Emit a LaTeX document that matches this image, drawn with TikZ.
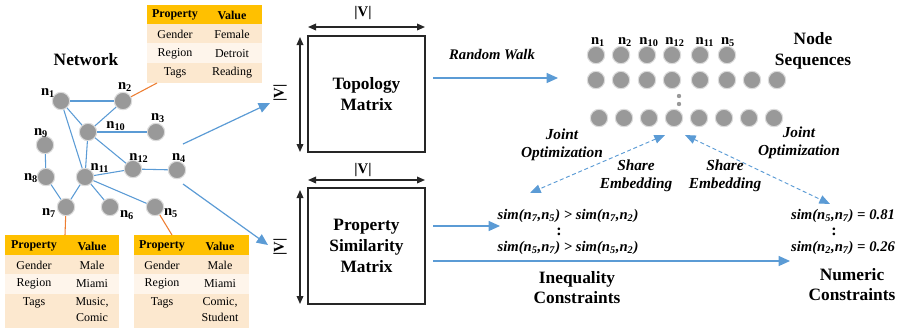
\documentclass[tikz,border=0pt]{standalone}
\usepackage{fontspec}
\setmainfont{Liberation Serif}
\usetikzlibrary{arrows.meta}
\definecolor{ublue}{HTML}{5B9BD5}
\definecolor{uorange}{HTML}{ED7D31}
\definecolor{hdr}{HTML}{FFC000}
\definecolor{rowa}{HTML}{FCE8CF}
\definecolor{rowb}{HTML}{FEF5EB}
\definecolor{ndgray}{HTML}{999999}
\definecolor{dk}{HTML}{262626}
\begin{document}
\begin{tikzpicture}[x=0.75pt,y=-0.75pt,
  nd/.style={circle, fill=ndgray, draw=ndgray!35!white, line width=0.8pt, minimum size=13pt, inner sep=0pt},
  lbl/.style={font=\fontsize{11}{11}\selectfont\bfseries, inner sep=0pt},
  netedge/.style={draw=ublue, line width=0.8pt},
  link/.style={draw=uorange, line width=0.8pt},
  flow/.style={draw=ublue, line width=0.9pt, -{Triangle[length=8.5pt,width=7.5pt]}},
  dflow/.style={draw=ublue, line width=0.7pt, dash pattern=on 3pt off 2pt, {Triangle[length=8pt,width=6.5pt]}-{Triangle[length=8pt,width=6.5pt]}},
  dimarrow/.style={draw=dk, line width=1pt, {Triangle[length=6pt,width=5pt]}-{Triangle[length=6pt,width=5pt]}},
  mat/.style={draw=dk, line width=1pt, minimum width=87.75pt, minimum height=87pt, align=center, font=\fontsize{13}{16}\selectfont\bfseries},
  ttl/.style={font=\fontsize{13}{16}\selectfont\bfseries, align=center, inner sep=0pt},
  ttlb/.style={font=\fontsize{13}{15}\selectfont\bfseries, align=center, inner sep=0pt},
  ital/.style={font=\fontsize{11.5}{13.5}\selectfont\bfseries\itshape, align=center, inner sep=0pt},
  cons/.style={font=\fontsize{11}{13}\selectfont\bfseries\itshape, inner sep=0pt},
  cell/.style={font=\fontsize{9}{12}\selectfont, inner sep=0pt, align=center},
  hcell/.style={font=\fontsize{9}{12}\selectfont\bfseries, inner sep=0pt},
  vlab/.style={font=\fontsize{11}{11}\selectfont\bfseries, inner sep=0pt}
]
\useasboundingbox (0,0) rectangle (904,330);

% ---------- tables ----------
\fill[hdr] (147,5) rectangle (262,24);
\fill[rowa] (147,24) rectangle (262,43);
\fill[rowb] (147,43) rectangle (262,63);
\fill[rowa] (147,63) rectangle (262,83);
\node[hcell] (ta1) at (175,15) {Property};
\node[hcell] (ta2) at (232,15) {Value};
\node[cell] (ta3) at (175,34) {Gender};
\node[cell] (ta4) at (232,34) {Female};
\node[cell] (ta5) at (175,54) {Region};
\node[cell] (ta6) at (232,54) {Detroit};
\node[cell] (ta7) at (175,73) {Tags};
\node[cell] (ta8) at (232,73) {Reading};
\coordinate (tatt) at (157,83);

\fill[hdr] (5,235) rectangle (119,255);
\fill[rowa] (5,255) rectangle (119,274);
\fill[rowb] (5,274) rectangle (119,294);
\fill[rowa] (5,294) rectangle (119,328);
\node[hcell] (tb1) at (34,246) {Property};
\node[hcell] (tb2) at (92,246) {Value};
\node[cell] (tb3) at (34,265) {Gender};
\node[cell] (tb4) at (92,265) {Male};
\node[cell] (tb5) at (34,284) {Region};
\node[cell] (tb6) at (92,284) {Miami};
\node[cell, anchor=north] (tb7) at (34,297) {Tags};
\node[cell, anchor=north] (tb8) at (92,297) {Music,\\Comic};
\coordinate (tbtt) at (65,235);

\fill[hdr] (134,235) rectangle (249,255);
\fill[rowa] (134,255) rectangle (249,274);
\fill[rowb] (134,274) rectangle (249,294);
\fill[rowa] (134,294) rectangle (249,328);
\node[hcell] (tc1) at (162,246) {Property};
\node[hcell] (tc2) at (220,246) {Value};
\node[cell] (tc3) at (162,265) {Gender};
\node[cell] (tc4) at (220,265) {Male};
\node[cell] (tc5) at (162,284) {Region};
\node[cell] (tc6) at (220,284) {Miami};
\node[cell, anchor=north] (tc7) at (162,297) {Tags};
\node[cell, anchor=north] (tc8) at (220,297) {Comic,\\Student};
\coordinate (tctt) at (172,235);

% ---------- network ----------
\node[ttl] (nettitle) at (86,60) {Network};
\node[nd] (n1) at (61,101) {};
\node[nd] (n2) at (123,101) {};
\node[nd] (n10) at (88,132) {};
\node[nd] (n3) at (156,132) {};
\node[nd] (n9) at (45,145) {};
\node[nd] (n12) at (133,169) {};
\node[nd] (n4) at (177,170) {};
\node[nd] (n8) at (46,177) {};
\node[nd] (n11) at (85,177) {};
\node[nd] (n7) at (66,207) {};
\node[nd] (n6) at (110,207) {};
\node[nd] (n5) at (155,207) {};

\node[lbl] (l1) at (48,93) {n\textsubscript{1}};
\node[lbl] (l2) at (125,87) {n\textsubscript{2}};
\node[lbl] (l10) at (116,126) {n\textsubscript{10}};
\node[lbl] (l3) at (158,118) {n\textsubscript{3}};
\node[lbl] (l9) at (41,133) {n\textsubscript{9}};
\node[lbl] (l12) at (139,158) {n\textsubscript{12}};
\node[lbl] (l4) at (179,158) {n\textsubscript{4}};
\node[lbl] (l8) at (31,178) {n\textsubscript{8}};
\node[lbl] (l11) at (100,168) {n\textsubscript{11}};
\node[lbl] (l7) at (49,213) {n\textsubscript{7}};
\node[lbl] (l6) at (127,215) {n\textsubscript{6}};
\node[lbl] (l5) at (171,213) {n\textsubscript{5}};

\draw[netedge] (n1) -- (n2);
\draw[netedge] (n1) -- (n10);
\draw[netedge] (n1) -- (n11);
\draw[netedge] (n2) -- (n10);
\draw[netedge] (n10) -- (n3);
\draw[netedge] (n10) -- (n11);
\draw[netedge] (n10) -- (n12);
\draw[netedge] (n9) -- (n8);
\draw[netedge] (n8) -- (n7);
\draw[netedge] (n11) -- (n7);
\draw[netedge] (n11) -- (n12);
\draw[netedge] (n12) -- (n4);
\draw[netedge] (n11) -- (n6);
\draw[netedge] (n11) -- (n5);
\draw[link] (n2) -- (tatt);
\draw[link] (n7) -- (tbtt);
\draw[link] (n5) -- (tctt);

% ---------- matrices ----------
\node[mat] (topo) at (366.5,94) {Topology\\Matrix};
\node[mat] (psm) at (366.5,246) {Property\\Similarity\\Matrix};
\coordinate (ta) at (308,27); \coordinate (tb) at (425,27);
\coordinate (tc) at (300,37); \coordinate (td) at (300,152);
\coordinate (pa) at (308,180); \coordinate (pb) at (425,180);
\coordinate (pc) at (300,190); \coordinate (pd) at (300,304);
\draw[dimarrow] (ta) -- (tb);
\draw[dimarrow] (tc) -- (td);
\draw[dimarrow] (pa) -- (pb);
\draw[dimarrow] (pc) -- (pd);
\node[vlab] (vt1) at (363,13) {|V|};
\node[vlab, rotate=90] (vt2) at (280,93) {|V|};
\node[vlab] (vp1) at (363,170) {|V|};
\node[vlab, rotate=90] (vp2) at (280,247) {|V|};

\coordinate (fa) at (183,144); \coordinate (fb) at (270,103);
\coordinate (fc) at (183,184); \coordinate (fd) at (268,245);
\draw[flow] (fa) -- (fb);
\draw[flow] (fc) -- (fd);

% ---------- random walk ----------
\coordinate (rwa) at (433,78); \coordinate (rwb) at (558,78);
\draw[flow] (rwa) -- (rwb);
\node[ital, font=\fontsize{11}{13}\selectfont\bfseries\itshape] (rw) at (492,55) {Random Walk};

% ---------- node sequences ----------
\foreach \x [count=\i] in {596,621,647,672,700,727}
  \node[nd] (sa\i) at (\x,55) {};
\foreach \x [count=\i] in {596,621,647,672,700,727,752,777}
  \node[nd] (sb\i) at (\x,80) {};
\foreach \x [count=\i] in {599,624,649,674,699,724,749,774}
  \node[nd] (sc\i) at (\x,118) {};
\node[circle, fill=ndgray, inner sep=0pt, minimum size=3.3pt] (dot1) at (679,96) {};
\node[circle, fill=ndgray, inner sep=0pt, minimum size=3.3pt] (dot2) at (679,104) {};
\node[lbl] (q1) at (598,42) {n\textsubscript{1}};
\node[lbl] (q2) at (625,42) {n\textsubscript{2}};
\node[lbl] (q3) at (649,42) {n\textsubscript{10}};
\node[lbl] (q4) at (675,42) {n\textsubscript{12}};
\node[lbl] (q5) at (705,42) {n\textsubscript{11}};
\node[lbl] (q6) at (728,42) {n\textsubscript{5}};
\node[ttl] (ns) at (813,51) {Node\\Sequences};

% ---------- joint optimization ----------
\coordinate (da) at (665,135); \coordinate (db) at (530,193);
\coordinate (dc) at (685,135); \coordinate (dd) at (830,204);
\draw[dflow] (da) -- (db);
\draw[dflow] (dc) -- (dd);
\node[ital] (jo1) at (562,145) {Joint\\Optimization};
\node[ital] (jo2) at (799,143) {Joint\\Optimization};
\node[ital] (se1) at (636,176) {Share\\Embedding};
\node[ital] (se2) at (725,176) {Share\\Embedding};

% ---------- constraints ----------
\coordinate (ca) at (433,226); \coordinate (cb) at (500,226);
\coordinate (cc) at (433,261); \coordinate (cd) at (790,261);
\draw[flow] (ca) -- (cb);
\draw[flow] (cc) -- (cd);
\node[cons] (i1) at (568,216) {sim(n\textsubscript{7},n\textsubscript{5}) > sim(n\textsubscript{7},n\textsubscript{2})};
\node[cons, font=\fontsize{12}{12}\selectfont\bfseries] (i2) at (559,232) {:};
\node[cons] (i3) at (568,248) {sim(n\textsubscript{5},n\textsubscript{7}) > sim(n\textsubscript{5},n\textsubscript{2})};
\node[cons] (e1) at (843,216) {sim(n\textsubscript{5},n\textsubscript{7}) = 0.81};
\node[cons, font=\fontsize{12}{12}\selectfont\bfseries] (e2) at (834,232) {:};
\node[cons] (e3) at (843,248) {sim(n\textsubscript{2},n\textsubscript{7}) = 0.26};
\node[ttlb] (ic) at (577,288) {Inequality\\Constraints};
\node[ttlb] (nc) at (852,285) {Numeric\\Constraints};
\end{tikzpicture}
\end{document}
